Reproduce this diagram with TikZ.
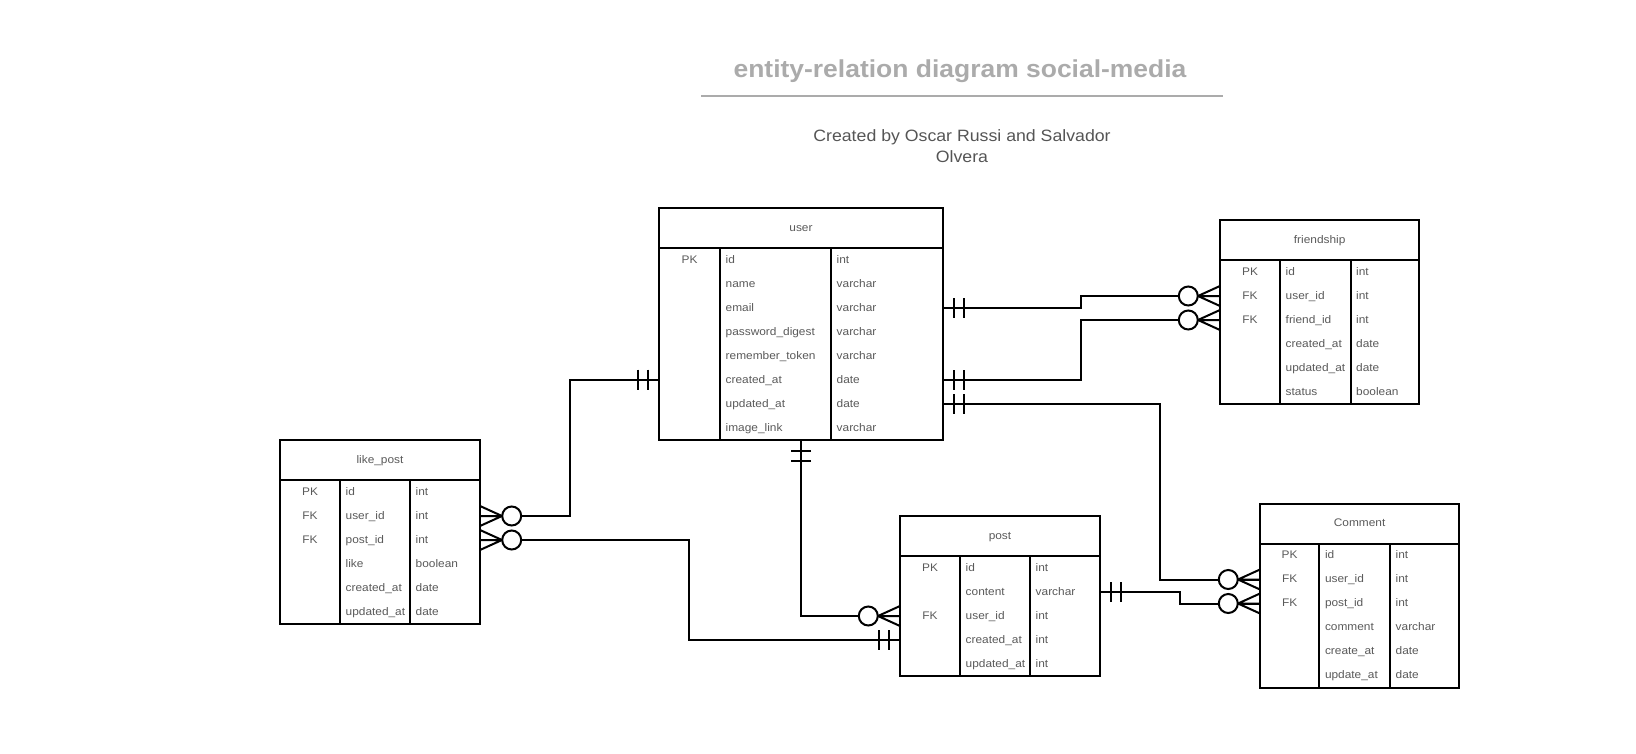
\documentclass[tikz,border=0pt]{standalone}
\usepackage{fontspec}
\setmainfont{Liberation Sans}[FakeStretch=1.08]
\usetikzlibrary{calc}
\definecolor{txt}{HTML}{5A5A5A}
\definecolor{ttl}{HTML}{ABABAB}
\definecolor{sub}{HTML}{555555}
\tikzset{
  tbl/.style={line width=2pt, draw=black},
  conn/.style={line width=2pt, draw=black},
  cell/.style={text=txt, font=\fontsize{11}{13}\selectfont, inner sep=0pt},
}
\newcommand\ertable[9]{%
  \pgfmathsetmacro\Hy{#6+40}%
  \pgfmathsetmacro\By{#6+40+24*#7}%
  \pgfmathsetmacro\Mx{(#2+#5)/2}%
  \draw[tbl] (#2,#6) rectangle (#5,\By);
  \draw[tbl] (#2,\Hy) -- (#5,\Hy) (#3,\Hy) -- (#3,\By) (#4,\Hy) -- (#4,\By);
  \node[cell,anchor=mid] (#1) at (\Mx,{(#6+\Hy)/2+0.8}) {#8};
  \coordinate (#1-s) at (\Mx,\By);
  \foreach \ka/\fa/\ta [count=\i] in {#9}{%
    \pgfmathsetmacro\yy{\Hy+12+24*(\i-1)}%
    \node[cell,anchor=mid] at ({(#2+#3)/2},\yy+0.8) {\ka};
    \node[cell,anchor=mid west] at (#3+5.5,\yy+0.8) {\fa};
    \node[cell,anchor=mid west] at (#4+5.5,\yy+0.8) {\ta};
    \coordinate (#1-\i-w) at (#2,\yy);
    \coordinate (#1-\i-e) at (#5,\yy);
  }%
}
% two bars across a connector, near the table edge #1, direction (#2,#3) away from the table
\newcommand\onebar[3]{%
  \foreach \s in {11,21}{%
    \pgfmathsetmacro\ax{\s*#2+10*#3}%
    \pgfmathsetmacro\ay{\s*#3+10*#2}%
    \pgfmathsetmacro\bx{\s*#2-10*#3}%
    \pgfmathsetmacro\by{\s*#3-10*#2}%
    \draw[conn] ([shift={(\ax,\ay)}]#1) -- ([shift={(\bx,\by)}]#1);
  }%
}
% crow's foot and circle (zero or many)
\newcommand\zeromany[3]{%
  \pgfmathsetmacro\fx{22*#2}%
  \pgfmathsetmacro\fy{22*#3}%
  \pgfmathsetmacro\px{10*#3}%
  \pgfmathsetmacro\py{10*#2}%
  \pgfmathsetmacro\cx{31.7*#2}%
  \pgfmathsetmacro\cy{31.7*#3}%
  \draw[conn] ([shift={(\fx,\fy)}]#1) -- ([shift={(\px,\py)}]#1)
              ([shift={(\fx,\fy)}]#1) -- (#1)
              ([shift={(\fx,\fy)}]#1) -- ([shift={(-\px,-\py)}]#1);
  \draw[conn,fill=white] ([shift={(\cx,\cy)}]#1) circle[radius=9.5];
}
\begin{document}
\begin{tikzpicture}[x=1pt,y=-1pt]
\useasboundingbox (0,0) rectangle (1636,754);
\fill[white] (0,0) rectangle (1636,754);

% title
\node[anchor=base, text=ttl, font=\bfseries\fontsize{24.5}{28}\selectfont, inner sep=0pt] (title) at (960,77.5) {entity-relation diagram social-media};
\draw[line width=2pt, draw=ttl] (701,96) -- (1223,96);
\node[anchor=base, text=sub, font=\fontsize{16.4}{20}\selectfont, inner sep=0pt] (sub1) at (962,141.5) {Created by Oscar Russi and Salvador};
\node[anchor=base, text=sub, font=\fontsize{16.4}{20}\selectfont, inner sep=0pt] (sub2) at (962,163) {Olvera};

% tables
\ertable{user}{659.3}{720}{831}{942.7}{207.6}{8}{user}{PK/id/int, /name/varchar, /email/varchar, /password\_digest/varchar, /remember\_token/varchar, /created\_at/date, /updated\_at/date, /image\_link/varchar}
\ertable{friendship}{1220}{1280}{1350.5}{1419.3}{220}{6}{friendship}{PK/id/int, FK/user\_id/int, FK/friend\_id/int, /created\_at/date, /updated\_at/date, /status/boolean}
\ertable{like}{280}{340}{410}{480}{440}{6}{like\_post}{PK/id/int, FK/user\_id/int, FK/post\_id/int, /like/boolean, /created\_at/date, /updated\_at/date}
\ertable{post}{900}{960}{1030}{1100}{516}{5}{post}{PK/id/int, /content/varchar, FK/user\_id/int, /created\_at/int, /updated\_at/int}
\ertable{comment}{1260}{1319.3}{1390}{1459.3}{503.5}{6}{Comment}{PK/id/int, FK/user\_id/int, FK/post\_id/int, /comment/varchar, /create\_at/date, /update\_at/date}

% routing columns
\coordinate (j1) at (1080.7,0);
\coordinate (j2) at (1160,0);
\coordinate (j3) at (1180,0);
\coordinate (j4) at (570,0);
\coordinate (j5) at (689,0);

% connectors
\draw[conn] (user-3-e) -- (user-3-e -| j1) |- (friendship-2-w);
\draw[conn] (user-6-e) -- (user-6-e -| j1) |- (friendship-3-w);
\draw[conn] (user-7-e) -- (user-7-e -| j2) |- (comment-2-w);
\draw[conn] (post-2-e) -- (post-2-e -| j3) |- (comment-3-w);
\draw[conn] (user-6-w) -- (user-6-w -| j4) |- (like-2-e);
\draw[conn] (like-3-e) -- (like-3-e -| j5) |- (post-4-w);
\draw[conn] (user-s) |- (post-3-w);

% cardinalities
\onebar{user-3-e}{1}{0}  \zeromany{friendship-2-w}{-1}{0}
\onebar{user-6-e}{1}{0}  \zeromany{friendship-3-w}{-1}{0}
\onebar{user-7-e}{1}{0}  \zeromany{comment-2-w}{-1}{0}
\onebar{post-2-e}{1}{0}  \zeromany{comment-3-w}{-1}{0}
\onebar{user-6-w}{-1}{0} \zeromany{like-2-e}{1}{0}
\zeromany{like-3-e}{1}{0} \onebar{post-4-w}{-1}{0}
\onebar{user-s}{0}{1}    \zeromany{post-3-w}{-1}{0}
\end{tikzpicture}
\end{document}
